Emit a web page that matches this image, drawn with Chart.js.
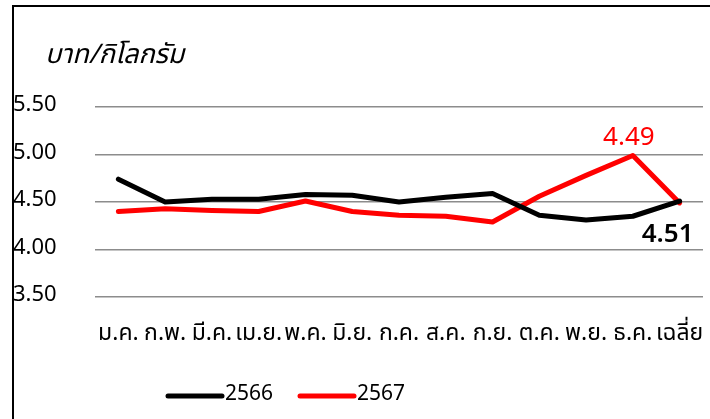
<!DOCTYPE html>
<html>
<head>
<meta charset="utf-8">
<script src="https://cdn.jsdelivr.net/npm/chart.js@4"></script>
<style>
  body { margin: 0; background: #fff; }
  #wrap { width: 710px; height: 419px; }
</style>
</head>
<body>
<div id="wrap"><canvas id="chart" width="710" height="419"></canvas></div>
<script>
// data
const months = ['ม.ค.', 'ก.พ.', 'มี.ค.', 'เม.ย.', 'พ.ค.', 'มิ.ย.', 'ก.ค.', 'ส.ค.', 'ก.ย.', 'ต.ค.', 'พ.ย.', 'ธ.ค.', 'เฉลี่ย']
const price2566 = [4.74, 4.50, 4.53, 4.53, 4.58, 4.57, 4.50, 4.55, 4.59, 4.36, 4.31, 4.35, 4.51]
const price2567 = [4.40, 4.43, 4.41, 4.40, 4.51, 4.40, 4.36, 4.35, 4.29, 4.56, 4.78, 4.99, 4.49]
const seriesNames = ['2566', '2567']
const seriesColors = ['#000000', '#ff0000']
const unitLabel = 'บาท/กิโลกรัม'

const fontFamily = "'Noto Sans Thai', 'Noto Sans', 'DejaVu Sans', sans-serif"

// frame, unit title, value labels and legend drawn on the canvas
const extras = {
  id: 'extras',
  afterDraw(chart) {
    const ctx = chart.ctx
    ctx.save()
    // frame (right and bottom edges fall outside the picture)
    ctx.strokeStyle = '#000'
    ctx.lineWidth = 2
    ctx.beginPath()
    ctx.moveTo(13, 440)
    ctx.lineTo(13, 6)
    ctx.lineTo(720, 6)
    ctx.stroke()

    // unit
    ctx.fillStyle = '#000'
    ctx.font = `italic 27px ${fontFamily}`
    ctx.textBaseline = 'middle'
    ctx.textAlign = 'left'
    ctx.fillText(unitLabel, 45, 58)

    // value labels of the average
    const last = months.length - 1
    const redPt = chart.getDatasetMeta(1).data[last - 1]
    const blackPt = chart.getDatasetMeta(0).data[last]
    ctx.textAlign = 'center'
    ctx.font = `26px ${fontFamily}`
    ctx.fillStyle = seriesColors[1]
    ctx.fillText(price2567[last].toFixed(2), redPt.x - 4, redPt.y - 16)
    ctx.font = `600 26px ${fontFamily}`
    ctx.fillStyle = seriesColors[0]
    ctx.fillText(price2566[last].toFixed(2), blackPt.x - 12, blackPt.y + 36)

    // legend
    const legendX = [168, 300]
    ctx.font = `21px ${fontFamily}`
    ctx.textAlign = 'left'
    ctx.lineCap = 'round'
    ctx.lineWidth = 5
    seriesNames.forEach((name, i) => {
      ctx.strokeStyle = seriesColors[i]
      ctx.beginPath()
      ctx.moveTo(legendX[i], 396)
      ctx.lineTo(legendX[i] + 54, 396)
      ctx.stroke()
      ctx.fillStyle = '#000'
      ctx.fillText(name, legendX[i] + 57, 396)
    })
    ctx.restore()
  }
}

new Chart(document.getElementById('chart'), {
  type: 'line',
  data: {
    labels: months,
    datasets: [price2566, price2567].map((values, i) => ({
      label: seriesNames[i],
      data: values,
      borderColor: seriesColors[i],
      backgroundColor: seriesColors[i],
      borderWidth: 5,
      pointRadius: 0,
      borderCapStyle: 'round',
      borderJoinStyle: 'round',
      tension: 0
    }))
  },
  options: {
    responsive: false,
    animation: false,
    layout: { padding: { left: 13, top: 107, right: 7, bottom: 43 } },
    plugins: { legend: { display: false }, tooltip: { enabled: false } },
    scales: {
      x: {
        offset: true,
        grid: { display: true, drawOnChartArea: false, drawTicks: true, tickLength: 23, tickColor: 'rgba(0,0,0,0)' },
        border: { display: false },
        ticks: { color: '#000', font: { family: fontFamily, size: 23 }, padding: 2, maxRotation: 0, autoSkip: false },
        afterFit(scale) { scale.height = 79 }
      },
      y: {
        min: 3.5,
        max: 5.5,
        grid: { color: '#8c8c8c', lineWidth: 1.5, drawTicks: false },
        border: { display: false },
        ticks: {
          stepSize: 0.5,
          color: '#000',
          font: { family: fontFamily, size: 22 },
          crossAlign: 'far',
          padding: 8,
          callback: v => v.toFixed(2)
        },
        afterFit(scale) { scale.width = 82 }
      }
    }
  },
  plugins: [extras]
})
</script>
</body>
</html>
